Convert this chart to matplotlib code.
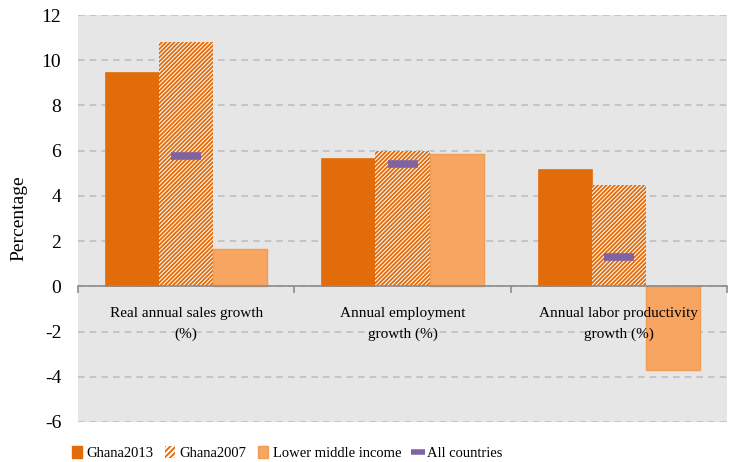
import numpy as np
import matplotlib
matplotlib.use('Agg')
import matplotlib.pyplot as plt
from matplotlib.lines import Line2D
from matplotlib.patches import Patch

categories = ['Real annual sales growth\n(%)', 'Annual employment\ngrowth (%)',
              'Annual labor productivity\ngrowth (%)']
ghana2013 = [9.5, 5.68, 5.18]
ghana2007 = [10.82, 6.0, 4.47]
lower_middle = [1.67, 5.84, -3.69]
all_countries = [5.77, 5.4, 1.31]

dark = '#E36C0A'
light = '#F7A560'
purple = '#8064A2'

plt.rcParams['font.family'] = ['Liberation Serif', 'DejaVu Serif']
plt.rcParams['hatch.linewidth'] = 1.35
plt.rcParams['axes.unicode_minus'] = False

fig = plt.figure(figsize=(7.38, 4.62), dpi=100)
ax = fig.add_axes([0.1057, 0.0866, 0.8795, 0.8809])
ax.set_facecolor('#E6E6E6')

x = np.arange(len(categories))
w = 0.25
ax.bar(x - w, ghana2013, w, color=dark, edgecolor=dark, linewidth=0.5, zorder=3)
ax.bar(x, ghana2007, w, color='white', edgecolor=dark, hatch='////////', linewidth=0, zorder=3)
ax.bar(x + w, lower_middle, w, color=light, edgecolor='#EE9E55', linewidth=1, zorder=3)
ax.plot(x, all_countries, linestyle='none', marker='_', markersize=21,
        markeredgewidth=5.5, color=purple, zorder=4)

ax.set_xlim(-0.5, 2.5)
ax.set_ylim(-6, 12)
ax.set_yticks(np.arange(-6, 13, 2))
ax.yaxis.grid(True, linestyle=(0, (4, 3)), color='#BFBFBF', linewidth=1.2, zorder=0)
ax.set_axisbelow(True)

for s in ['top', 'right', 'left']:
    ax.spines[s].set_visible(False)
ax.spines['bottom'].set_position(('data', 0))
ax.spines['bottom'].set_color('#8C8C8C')
ax.spines['bottom'].set_linewidth(1.2)
ax.spines['bottom'].set_zorder(5)

ax.set_xticks(x)
ax.set_xticklabels(categories, fontsize=11, linespacing=1.7)
ax.tick_params(axis='x', length=0, pad=15)
ax.set_xticks([-0.5, 0.5, 1.5, 2.5], minor=True)
ax.tick_params(axis='x', which='minor', length=5, color='#8C8C8C', width=1.2)
ax.xaxis.set_zorder(6)
ax.tick_params(axis='y', length=0, labelsize=14, pad=12)
ax.set_ylabel('Percentage', fontsize=14, labelpad=10)

handles = [Patch(facecolor=dark, edgecolor=dark),
           Patch(facecolor='white', edgecolor=dark, hatch='//////', linewidth=0),
           Patch(facecolor=light, edgecolor='#EE9E55'),
           Line2D([], [], linestyle='none', marker='_', markersize=10,
                  markeredgewidth=4, color=purple)]
fig.legend(handles, ['Ghana2013', 'Ghana2007', 'Lower middle income', 'All countries'],
           loc='lower left', bbox_to_anchor=(0.097, 0.004), ncol=4, frameon=False,
           fontsize=10.5, handlelength=0.7, handleheight=0.9, handletextpad=0.3,
           columnspacing=0.8, borderpad=0, borderaxespad=0)

fig.savefig('out.png', dpi=100)
